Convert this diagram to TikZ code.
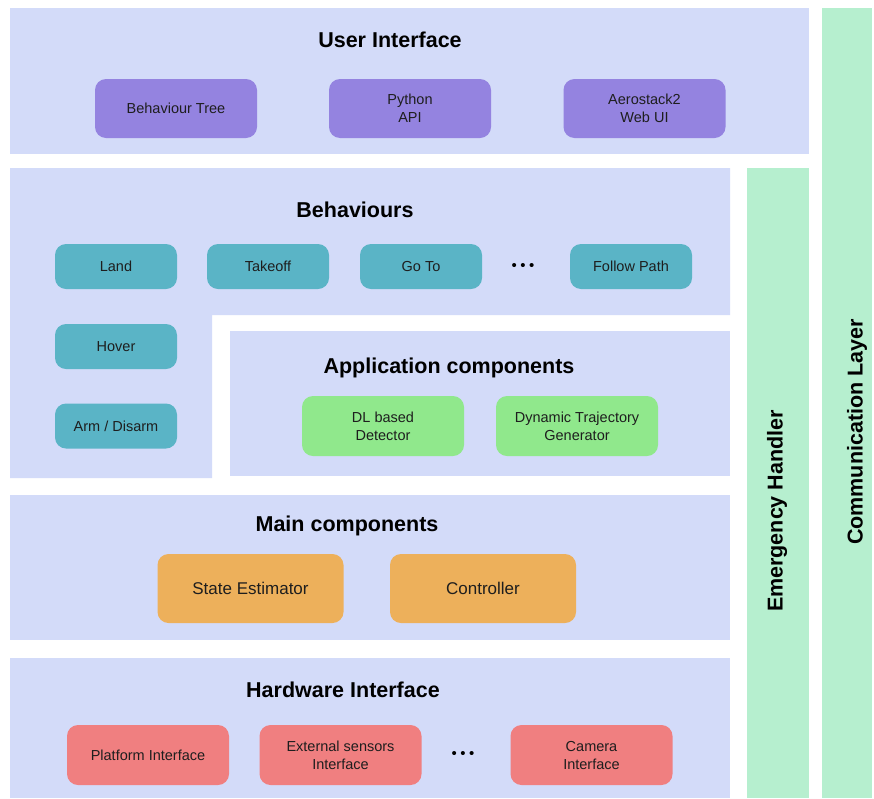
\documentclass[tikz,border=0pt]{standalone}
\usepackage{fontspec}
\setmainfont{Liberation Sans}
\definecolor{panel}{HTML}{D3DBF9}
\definecolor{uibox}{HTML}{9483E0}
\definecolor{behbox}{HTML}{5AB4C6}
\definecolor{appbox}{HTML}{90E88C}
\definecolor{mainbox}{HTML}{EDB05B}
\definecolor{hwbox}{HTML}{F07F80}
\definecolor{sidebar}{HTML}{B6EFCF}
\definecolor{ink}{HTML}{1E1E1E}
\tikzset{
  panelfill/.style={fill=panel, draw=none},
  barfill/.style={fill=sidebar, draw=none},
  title/.style={font=\fontsize{21.5}{24}\selectfont\bfseries, text=black},
  bartitle/.style={font=\fontsize{21.5}{24}\selectfont\bfseries, text=black, rotate=90},
  comp/.style={draw=none, rounded corners=11pt, align=center, text=ink,
    font=\fontsize{14.5}{18}\selectfont, inner sep=0pt},
  uicomp/.style={comp, fill=uibox, minimum width=162pt, minimum height=59pt},
  behcomp/.style={comp, fill=behbox, minimum width=122pt, minimum height=45pt},
  appcomp/.style={comp, fill=appbox, minimum width=162pt, minimum height=60pt},
  maincomp/.style={comp, fill=mainbox, minimum width=186pt, minimum height=69pt,
    font=\fontsize{17}{20}\selectfont},
  hwcomp/.style={comp, fill=hwbox, minimum width=162pt, minimum height=60pt},
  ellipsis/.style={font=\fontsize{15}{17}\selectfont, text=black, inner sep=0pt}
}
\newcommand{\threedots}{\textbullet\hspace{3.5pt}\textbullet\hspace{3.5pt}\textbullet}
\begin{document}
\begin{tikzpicture}[x=1pt, y=-1pt]
\useasboundingbox (0,0) rectangle (874,798);

% layer panels
\fill[panelfill] (10,8) rectangle (809,154);
\fill[panelfill] (10,168) -- (730,168) -- (730,315) -- (212,315)
                 -- (212,478) -- (10,478) -- cycle;
\fill[panelfill] (230,331) rectangle (730,476);
\fill[panelfill] (10,495) rectangle (730,640);
\fill[panelfill] (10,658) rectangle (730,798);

% vertical side bars
\fill[barfill] (747,168) rectangle (809,798);
\fill[barfill] (822,8) rectangle (872,798);
\node[bartitle] (emergency) at (777,511) {Emergency Handler};
\node[bartitle] (comm) at (857,432) {Communication Layer};

% User Interface
\node[title] (uititle) at (390,40) {User Interface};
\node[uicomp] (bt) at (176,108.5) {Behaviour Tree};
\node[uicomp] (pyapi) at (410,108.5) {Python\\API};
\node[uicomp] (webui) at (644.5,108.5) {Aerostack2\\Web UI};

% Behaviours
\node[title] (behtitle) at (355,210) {Behaviours};
\node[behcomp] (land) at (116,266.5) {Land};
\node[behcomp] (takeoff) at (268,266.5) {Takeoff};
\node[behcomp] (goto) at (421,266.5) {Go To};
\node[ellipsis] (behdots) at (523,267) {\threedots};
\node[behcomp] (follow) at (631,266.5) {Follow Path};
\node[behcomp] (hover) at (116,346.5) {Hover};
\node[behcomp] (arm) at (116,426) {Arm / Disarm};

% Application components
\node[title] (apptitle) at (449,368) {Application components};
\node[appcomp] (detector) at (383,426) {DL based\\Detector};
\node[appcomp] (trajgen) at (577,426) {Dynamic Trajectory\\Generator};

% Main components
\node[title] (maintitle) at (347,526) {Main components};
\node[maincomp] (estimator) at (250.5,588.5) {State Estimator};
\node[maincomp] (controller) at (483,588.5) {Controller};

% Hardware Interface
\node[title] (hwtitle) at (343,690) {Hardware Interface};
\node[hwcomp] (platform) at (148,755) {Platform Interface};
\node[hwcomp] (sensors) at (340.5,755) {External sensors\\Interface};
\node[ellipsis] (hwdots) at (463,755) {\threedots};
\node[hwcomp] (camera) at (591.5,755) {Camera\\Interface};
\end{tikzpicture}
\end{document}
